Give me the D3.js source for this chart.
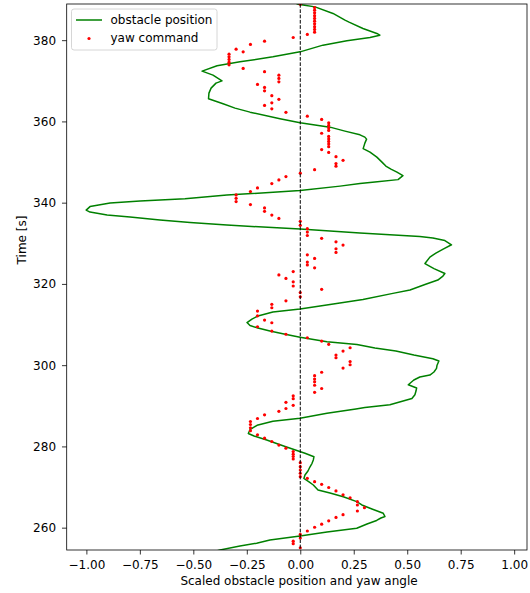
<!DOCTYPE html>
<html>
<head>
<meta charset="utf-8">
<script src="https://cdn.jsdelivr.net/npm/d3@7"></script>
<style>
  body { margin: 0; background: #fff; }
  svg text { font-family: "DejaVu Sans", sans-serif; }
</style>
</head>
<body>
<div id="chart"></div>
<script>
// obstacle position (scaled) vs time
const obstacleTime = [389.3, 388.86, 388.19, 386.57, 384.92, 384.43, 382.88, 381.65, 381.23, 380.67, 379.83, 378.77,
  377.12, 375.89, 374.66, 373.68, 372.37, 371.39, 369.98, 369.42, 368.19, 366.96, 365.56, 364.33, 363.27,
  362.28, 360.64, 359.65, 358.59, 357.61, 356.70, 356.13, 355.64, 354.66, 353.30, 352.44, 351.21, 349.98,
  349.00, 348.26, 347.52, 346.66, 345.67, 345.06, 344.69, 344.07, 342.97, 341.86, 340.99, 340.38, 339.89,
  339.03, 338.17, 337.68, 336.94, 336.45, 335.71, 335.09, 334.48, 333.49, 332.51, 331.65, 331.28, 330.67,
  329.63, 328.57, 327.59, 326.60, 325.01, 323.77, 322.55, 321.93, 320.95, 319.84, 318.49, 317.67, 316.15,
  314.92, 313.81, 313.07, 312.09, 311.35, 310.49, 309.75, 309.13, 308.40, 307.66, 306.85, 305.76, 305.07,
  304.21, 303.47, 302.49, 301.58, 301.01, 299.91, 299.22, 298.31, 297.57, 297.08, 296.34, 295.18, 294.37,
  293.63, 292.72, 291.79, 291.30, 290.26, 289.57, 289.20, 288.15, 286.94, 286.18, 285.19, 284.11, 283.18,
  282.56, 281.58, 279.98, 278.30, 277.47, 276.66, 275.84, 274.93, 273.95, 272.96, 272.10, 271.24, 270.50,
  269.27, 268.53, 267.62, 266.40, 265.58, 264.60, 263.54, 262.75, 262.38, 261.77, 260.90, 259.85, 258.94,
  257.95, 256.97, 256.16, 255.49, 254.51, 254.0];
const obstaclePos = [-0.03, -0.011, 0.069, 0.153, 0.209, 0.228, 0.293, 0.358, 0.372, 0.326, 0.218, 0.106,
  -0.001, -0.128, -0.282, -0.389, -0.459, -0.408, -0.366, -0.394, -0.417, -0.427, -0.429, -0.361, -0.305,
  -0.235, -0.095, -0.001, 0.139, 0.209, 0.279, 0.302, 0.310, 0.302, 0.294, 0.326, 0.358, 0.382,
  0.400, 0.424, 0.452, 0.480, 0.457, 0.349, 0.279, 0.186, -0.001, -0.343, -0.539, -0.749, -0.889,
  -0.983, -1.001, -0.983, -0.903, -0.796, -0.656, -0.515, -0.343, -0.001, 0.279, 0.559, 0.620, 0.676,
  0.707, 0.668, 0.634, 0.606, 0.583, 0.625, 0.676, 0.667, 0.643, 0.583, 0.513, 0.433, 0.293,
  0.139, -0.001, -0.128, -0.198, -0.226, -0.249, -0.235, -0.198, -0.142, -0.076, -0.001, 0.125, 0.265,
  0.349, 0.447, 0.531, 0.620, 0.648, 0.639, 0.637, 0.625, 0.606, 0.559, 0.531, 0.505, 0.544,
  0.541, 0.536, 0.522, 0.489, 0.419, 0.302, 0.260, 0.125, -0.001, -0.128, -0.202, -0.235, -0.243,
  -0.216, -0.157, -0.071, 0.022, 0.064, 0.061, 0.055, 0.045, 0.036, 0.022, 0.017, 0.041, 0.061,
  0.083, 0.139, 0.201, 0.264, 0.288, 0.335, 0.388, 0.396, 0.377, 0.357, 0.312, 0.264, 0.125,
  -0.001, -0.142, -0.204, -0.282, -0.375, -0.41];

// yaw command samples
const yawTime = [388.86, 388.04, 387.38, 386.72, 386.03, 385.34, 384.67, 384.01, 383.32, 382.63, 381.97,
  381.40, 380.66, 379.75, 378.94, 377.78, 377.12, 376.55, 375.89, 375.25, 374.58, 373.92, 373.03,
  372.25, 371.39, 370.57, 369.74, 369.10, 368.36, 367.52, 366.34, 365.43, 364.57, 363.93, 363.09,
  362.23, 361.30, 360.49, 359.65, 359.01, 358.35, 357.78, 357.09, 356.30, 355.69, 355.07, 354.46,
  353.79, 353.06, 352.37, 351.33, 350.42, 349.61, 348.99, 348.13, 347.25, 346.41, 345.60, 344.69,
  343.63, 342.72, 341.91, 341.07, 340.26, 339.52, 338.71, 337.87, 336.94, 336.12, 335.41, 334.43,
  333.59, 332.75, 331.92, 331.23, 330.37, 329.56, 328.65, 327.76, 327.15, 326.28, 325.37, 324.68,
  323.95, 323.03, 322.22, 321.36, 320.52, 319.49, 318.66, 317.87, 316.83, 315.83, 314.97, 314.13,
  313.31, 312.14, 311.10, 310.44, 309.45, 308.40, 307.61, 306.75, 305.93, 305.12, 304.28, 303.47,
  302.49, 301.82, 300.89, 300.10, 299.29, 298.26, 297.40, 296.58, 295.89, 295.06, 294.25, 293.31,
  292.47, 291.74, 290.85, 290.11, 289.33, 288.63, 287.78, 286.87, 286.13, 285.39, 284.58, 283.86,
  282.85, 282.02, 281.21, 280.32, 279.56, 278.74, 278.08, 277.51, 276.90, 275.99, 275.00, 274.19,
  273.38, 272.54, 272.15, 271.32, 270.67, 269.89, 269.03, 268.09, 267.35, 266.40, 265.58, 264.92,
  264.10, 263.19, 262.51, 261.69, 260.86, 260.10, 259.18, 258.33, 257.46, 256.67, 256.06, 255.05];
const yawCommand = [0, 0.067, 0.067, 0.067, 0.067, 0.067, 0.067, 0.067, 0.067, 0.067, 0.067,
  0.033, -0.033, -0.167, -0.233, -0.3, -0.267, -0.333, -0.333, -0.333, -0.333, -0.333, -0.267,
  -0.167, -0.1, -0.1, -0.1, -0.2, -0.167, -0.167, -0.133, -0.1, -0.133, -0.167, -0.133,
  -0.067, 0.033, 0.1, 0.133, 0.133, 0.133, 0.133, 0.1, 0.133, 0.133, 0.133, 0.133,
  0.133, 0.1, 0.133, 0.167, 0.2, 0.167, 0.167, 0.067, 0, -0.067, -0.1, -0.133,
  -0.2, -0.233, -0.3, -0.3, -0.3, -0.233, -0.167, -0.167, -0.133, -0.1, 0, 0,
  0.033, 0.033, 0.033, 0.1, 0.167, 0.2, 0.167, 0.167, 0.033, 0.067, 0.033, 0.033,
  0.067, -0.033, -0.1, -0.067, -0.033, -0.033, 0.1, 0, 0, -0.067, -0.133, -0.133,
  -0.2, -0.2, -0.167, -0.133, -0.2, -0.133, -0.067, 0.033, 0.1, 0.133, 0.233, 0.2,
  0.167, 0.167, 0.233, 0.233, 0.2, 0.1, 0.067, 0.067, 0.067, 0.067, 0.1, 0.067,
  -0.033, -0.033, -0.067, -0.033, -0.067, -0.1, -0.167, -0.2, -0.233, -0.233, -0.233, -0.233,
  -0.2, -0.167, -0.133, -0.1, -0.067, -0.033, -0.033, -0.033, -0.033, 0, 0, 0,
  0, 0, 0.033, 0.067, 0.1, 0.133, 0.167, 0.2, 0.233, 0.267, 0.267, 0.3,
  0.267, 0.2, 0.167, 0.133, 0.1, 0.067, 0.033, 0, 0, -0.033, -0.033, 0];

const xTicks = [-1, -0.75, -0.5, -0.25, 0, 0.25, 0.5, 0.75, 1];
const yTicks = [260, 280, 300, 320, 340, 360, 380];

const obstacle = obstacleTime.map((t, i) => ({ t: t, v: obstaclePos[i] }));
const yaw = yawTime.map((t, i) => ({ t: t, v: yawCommand[i] }));

const W = 530, H = 593;
const margin = { top: 4, right: 3, bottom: 43, left: 66.7 };

const svg = d3.select("#chart").append("svg")
  .attr("width", W)
  .attr("height", H);

const x = d3.scaleLinear().domain([-1.092, 1.06]).range([margin.left, W - margin.right]);
const y = d3.scaleLinear().domain([254.5, 388.9]).range([H - margin.bottom, margin.top]);

svg.append("clipPath").attr("id", "clip")
  .append("rect")
  .attr("x", margin.left).attr("y", margin.top)
  .attr("width", W - margin.right - margin.left)
  .attr("height", H - margin.bottom - margin.top);

const plot = svg.append("g").attr("clip-path", "url(#clip)");

// obstacle line
const line = d3.line()
  .x(d => x(d.v))
  .y(d => y(d.t));

plot.append("path")
  .datum(obstacle)
  .attr("fill", "none")
  .attr("stroke", "green")
  .attr("stroke-width", 1.5)
  .attr("stroke-linejoin", "round")
  .attr("d", line);

// yaw command dots
plot.selectAll(".dot")
  .data(yaw)
  .enter().append("circle")
  .attr("class", "dot")
  .attr("cx", d => x(d.v))
  .attr("cy", d => y(d.t))
  .attr("r", 1.6)
  .attr("fill", "red");

// zero line
plot.append("line")
  .attr("x1", x(0)).attr("x2", x(0))
  .attr("y1", margin.top).attr("y2", H - margin.bottom)
  .attr("stroke", "black")
  .attr("stroke-width", 1)
  .attr("stroke-dasharray", "3.7,1.6");

// axes
const xAxis = d3.axisBottom(x).tickValues(xTicks).tickFormat(d3.format(".2f"))
  .tickSize(4.5).tickPadding(5.5).tickSizeOuter(0);
const yAxis = d3.axisLeft(y).tickValues(yTicks).tickFormat(d3.format("d"))
  .tickSize(4.7).tickPadding(6).tickSizeOuter(0);

const gx = svg.append("g")
  .attr("transform", "translate(0," + (H - margin.bottom) + ")")
  .call(xAxis);
const gy = svg.append("g")
  .attr("transform", "translate(" + margin.left + ",0)")
  .call(yAxis);

[gx, gy].forEach(g => {
  g.select(".domain").remove();
  g.selectAll("text").attr("font-size", 12).attr("font-family", "DejaVu Sans").attr("fill", "#000");
  g.selectAll("line").attr("stroke", "#000").attr("stroke-width", 0.8);
});

// frame
svg.append("rect")
  .attr("x", margin.left).attr("y", margin.top)
  .attr("width", W - margin.right - margin.left)
  .attr("height", H - margin.bottom - margin.top)
  .attr("fill", "none")
  .attr("stroke", "#000")
  .attr("stroke-width", 0.8);

// axis labels
svg.append("text")
  .attr("x", 299).attr("y", 585)
  .attr("text-anchor", "middle")
  .attr("font-size", 12)
  .text("Scaled obstacle position and yaw angle");

svg.append("text")
  .attr("transform", "translate(26,240) rotate(-90)")
  .attr("text-anchor", "middle")
  .attr("font-size", 12)
  .text("Time [s]");

// legend
const legend = svg.append("g");
legend.append("rect")
  .attr("x", 71.5).attr("y", 9)
  .attr("width", 145.5).attr("height", 41)
  .attr("rx", 2.5)
  .attr("fill", "white").attr("fill-opacity", 0.8)
  .attr("stroke", "#ccc").attr("stroke-width", 0.8);
legend.append("line")
  .attr("x1", 76).attr("x2", 102)
  .attr("y1", 20).attr("y2", 20)
  .attr("stroke", "green").attr("stroke-width", 1.5);
legend.append("circle")
  .attr("cx", 89).attr("cy", 38.5).attr("r", 1.6)
  .attr("fill", "red");
legend.append("text")
  .attr("x", 110.5).attr("y", 24.3)
  .attr("font-size", 12)
  .text("obstacle position");
legend.append("text")
  .attr("x", 110.5).attr("y", 41.5)
  .attr("font-size", 12)
  .text("yaw command");
</script>
</body>
</html>
